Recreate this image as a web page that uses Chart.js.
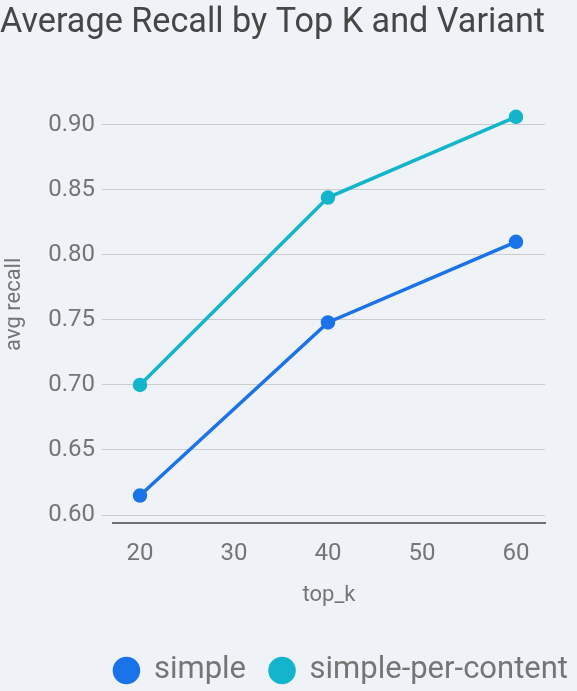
<!DOCTYPE html>
<html>
<head>
<meta charset="utf-8">
<script src="https://cdn.jsdelivr.net/npm/chart.js@4"></script>
<style>
  html, body { margin: 0; padding: 0; background: #eff3f8; }
  #wrap { width: 577px; height: 691px; }
</style>
</head>
<body>
<div id="wrap"><canvas id="myChart"></canvas></div>
<script>
const topK = [20, 40, 60];
const simple = [0.615, 0.748, 0.810];
const simplePerContent = [0.700, 0.844, 0.906];
const xTicks = [20, 30, 40, 50, 60];
const yTicks = [0.60, 0.65, 0.70, 0.75, 0.80, 0.85, 0.90];

const FONT = 'Roboto, "Noto Sans", sans-serif';
const GREY = '#757575';

const toPoints = (values) => topK.map((k, i) => ({ x: k, y: values[i] }));

const series = [
  { label: 'simple', color: '#1a73e8', values: simple },
  { label: 'simple-per-content', color: '#12b5cb', values: simplePerContent },
].map((s) => ({
  label: s.label,
  data: toPoints(s.values),
  borderColor: s.color,
  backgroundColor: s.color,
  borderWidth: 3.5,
  pointRadius: 5.5,
  pointHoverRadius: 5.5,
  pointStyle: 'circle',
}));

// legend sits a bit right of the plot area and slightly lower
const legendShift = {
  id: 'legendShift',
  afterLayout(chart) {
    const lg = chart.legend;
    lg.left += 47;
    lg.right += 47;
    lg.top += 5;
    lg.bottom += 5;
  },
};

const ctx = document.getElementById('myChart').getContext('2d');
new Chart(ctx, {
  type: 'line',
  data: { datasets: series },
  plugins: [legendShift],
  options: {
    responsive: true,
    maintainAspectRatio: false,
    animation: false,
    layout: { padding: { left: 0, right: 32, top: 0, bottom: 0 } },
    plugins: {
      title: {
        display: true,
        text: 'Average Recall by Top K and Variant',
        align: 'start',
        color: '#444746',
        font: { family: FONT, size: 35.5, weight: 'normal' },
        padding: { top: 2, bottom: 41 },
      },
      legend: {
        position: 'bottom',
        align: 'end',
        labels: {
          usePointStyle: true,
          pointStyle: 'circle',
          boxWidth: 24,
          boxHeight: 17,
          color: GREY,
          padding: 24,
          font: { family: FONT, size: 31 },
        },
      },
      tooltip: { enabled: false },
    },
    scales: {
      x: {
        type: 'linear',
        min: 17.13,
        max: 63.09,
        afterBuildTicks: (scale) => { scale.ticks = xTicks.map((v) => ({ value: v })); },
        afterFit: (scale) => { scale.height = 103; },
        grid: { display: false, drawTicks: false },
        border: { display: true, color: '#6f6f6f', width: 2 },
        ticks: {
          color: GREY,
          padding: 17,
          font: { family: FONT, size: 24 },
        },
        title: {
          display: true,
          text: 'top_k',
          color: GREY,
          font: { family: FONT, size: 22 },
          padding: { top: 10, bottom: 17 },
        },
      },
      y: {
        min: 0.5939,
        max: 0.93,
        afterBuildTicks: (scale) => { scale.ticks = yTicks.map((v) => ({ value: v })); },
        afterFit: (scale) => { scale.width = 113; },
        grid: { color: '#cccccc', lineWidth: 1, tickLength: 11, drawTicks: true },
        border: { display: false },
        ticks: {
          color: GREY,
          padding: 7,
          font: { family: FONT, size: 24 },
          callback: (v) => v.toFixed(2),
        },
        title: {
          display: true,
          text: 'avg recall',
          color: GREY,
          font: { family: FONT, size: 22 },
          padding: { top: 1, bottom: 0 },
        },
      },
    },
  },
});
</script>
</body>
</html>
